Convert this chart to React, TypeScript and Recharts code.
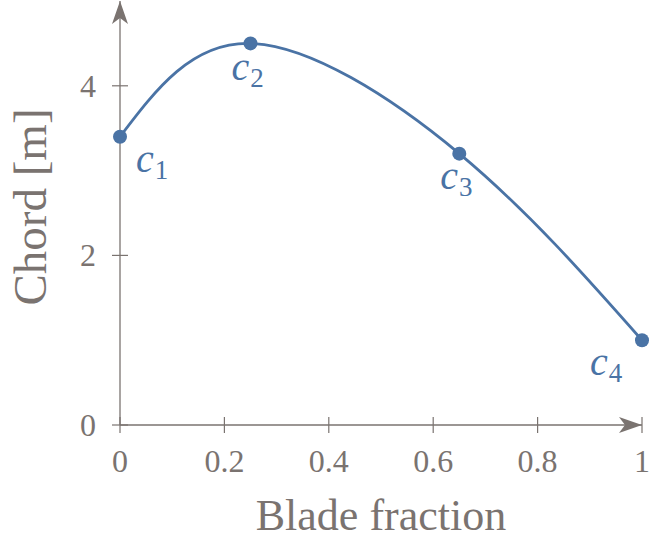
import { LineChart, Line, XAxis, YAxis, ReferenceDot, LabelList } from 'recharts';

// control points of the chord distribution
const bladeFraction = [0, 0.25, 0.65, 1];
const chord = [3.4, 4.5, 3.2, 1.0];
const pointNames = ['1', '2', '3', '4'];

const xTicks = [0, 0.2, 0.4, 0.6, 0.8, 1];
const yTicks = [0, 2, 4];

const data = bladeFraction.map((x, i) => ({ x, chord: chord[i], name: pointNames[i] }));

const GREY = '#7a7370';
const BLUE = '#4a73a5';
const FONT = '"Liberation Serif", serif';

// where each c_i label sits relative to its point
const labelOffsets = [
  { dx: 16, dy: 35 },
  { dx: -19, dy: 37 },
  { dx: -19, dy: 35 },
  { dx: -52, dy: 35 },
];

const XTick = (props: any) => {
  const { x, y, payload } = props;
  return (
    <g>
      <line x1={x} x2={x} y1={y - 8} y2={y + 8} stroke={GREY} strokeWidth={1.2} />
      <text x={x} y={y + 47} textAnchor="middle" fill={GREY} fontSize={32} fontFamily={FONT}>
        {String(payload.value)}
      </text>
    </g>
  );
};

const YTick = (props: any) => {
  const { x, y, payload } = props;
  return (
    <g>
      <line x1={x - 8} x2={x + 8} y1={y} y2={y} stroke={GREY} strokeWidth={1.2} />
      <text x={x - 24} y={y + 11} textAnchor="end" fill={GREY} fontSize={32} fontFamily={FONT}>
        {String(payload.value)}
      </text>
    </g>
  );
};

const ArrowUp = (props: any) => {
  const { cx, cy } = props;
  return (
    <path
      d={`M${cx},${cy} L${cx + 8},${cy + 23} L${cx},${cy + 17} L${cx - 8},${cy + 23} Z`}
      fill={GREY}
    />
  );
};

const ArrowRight = (props: any) => {
  const { cx, cy } = props;
  return (
    <path
      d={`M${cx},${cy} L${cx - 23},${cy - 8} L${cx - 17},${cy} L${cx - 23},${cy + 8} Z`}
      fill={GREY}
    />
  );
};

const PointLabel = (props: any) => {
  const { x, y, value, index } = props;
  const off = labelOffsets[index] || { dx: 0, dy: 0 };
  return (
    <text x={x + off.dx} y={y + off.dy} fill={BLUE} fontFamily={FONT}>
      <tspan fontStyle="italic" fontSize={40}>c</tspan>
      <tspan fontSize={27} dy={7} dx={1}>{value}</tspan>
    </text>
  );
};

export default function App() {
  return (
    <div style={{ position: 'absolute', left: 0, top: 0, background: '#fff' }}>
      <LineChart width={665} height={546} data={data} margin={{ top: 1, right: 23, bottom: 0, left: 0 }}>
        <XAxis
          dataKey="x"
          type="number"
          domain={[0, 1]}
          ticks={xTicks}
          tick={<XTick />}
          tickLine={false}
          tickSize={0}
          tickMargin={0}
          height={121}
          axisLine={{ stroke: GREY, strokeWidth: 1.3 }}
          label={(p: any) => {
            const vb = p.viewBox;
            return (
              <text x={vb.x + vb.width / 2} y={530} textAnchor="middle" fill={GREY} fontSize={44} fontFamily={FONT}>
                Blade fraction
              </text>
            );
          }}
        />
        <YAxis
          type="number"
          domain={[0, 5]}
          ticks={yTicks}
          tick={<YTick />}
          tickLine={false}
          tickSize={0}
          tickMargin={0}
          width={120}
          axisLine={{ stroke: GREY, strokeWidth: 1.3 }}
          label={() => (
            <text
              x={46}
              y={207}
              transform="rotate(-90, 46, 207)"
              textAnchor="middle"
              fill={GREY}
              fontSize={47}
              fontFamily={FONT}
            >
              Chord [m]
            </text>
          )}
        />
        <ReferenceDot x={0} y={5} r={0} ifOverflow="visible" shape={<ArrowUp />} />
        <ReferenceDot x={1} y={0} r={0} ifOverflow="visible" shape={<ArrowRight />} />
        <Line
          type="natural"
          dataKey="chord"
          stroke={BLUE}
          strokeWidth={2.8}
          dot={{ r: 7, fill: BLUE, stroke: 'none' }}
          activeDot={false}
          isAnimationActive={false}
        >
          <LabelList dataKey="name" content={<PointLabel />} />
        </Line>
      </LineChart>
    </div>
  );
}
